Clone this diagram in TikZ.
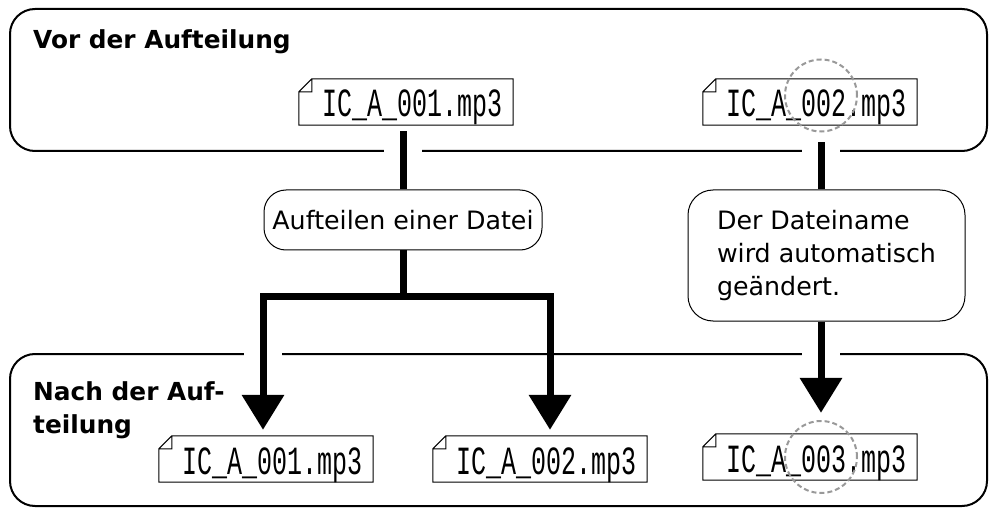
\documentclass[tikz,border=0pt]{standalone}
\usepackage{fontspec}
\setmainfont{DejaVu Sans}
\newfontfamily\filefont[FakeStretch=0.625]{Liberation Mono}
\usetikzlibrary{arrows.meta, calc}

\tikzstyle{panel} = [draw, line width=2pt, rounded corners=25pt, minimum width=977pt, inner sep=0pt]
\tikzstyle{heading} = [font=\bfseries\fontsize{24.8}{33}\selectfont, align=left, anchor=base west, inner sep=0pt]
\tikzstyle{stdText} = [font=\fontsize{25.3}{33}\selectfont, align=left]
\tikzstyle{action} = [stdText, draw, line width=1pt, rounded corners=25pt, inner sep=0pt]
\tikzstyle{file} = [font=\filefont\fontsize{40}{40}\selectfont, minimum width=214pt, text height=38pt, text depth=8pt, inner sep=0pt,
    execute at begin node={\hspace*{14pt}},
    append after command={\pgfextra{
        \draw [line width=1pt] ([yshift=-13pt]\tikzlastnode.north west) -- ([xshift=13pt]\tikzlastnode.north west)
            -- (\tikzlastnode.north east) -- (\tikzlastnode.south east) -- (\tikzlastnode.south west) -- cycle
            ([yshift=-13pt]\tikzlastnode.north west) -- ([shift={(13pt,-13pt)}]\tikzlastnode.north west)
            -- ([xshift=13pt]\tikzlastnode.north west);
    }}]
\tikzstyle{ring} = [circle, draw=gray!80, dash pattern=on 5pt off 3pt, line width=2pt, minimum size=72pt, inner sep=0pt]
\tikzstyle{gap} = [draw=white, line width=5pt]
\tikzstyle{bar} = [line width=7pt]
\tikzstyle{flow} = [bar, -{Triangle[width=41pt, length=35pt]}]
\tikzstyle{fork} = [bar, {Triangle[width=41pt, length=35pt]}-{Triangle[width=41pt, length=35pt]}]

\begin{document}
\begin{tikzpicture}[x=1pt, y=-1pt]
    \useasboundingbox (0,0) rectangle (989,508);

    % the two stages
    \node (before) [panel, minimum height=142pt] at (498.5,80) {};
    \node (after) [panel, minimum height=152pt] at (498.5,430) {};
    \node (beforeTitle) [heading] at (33,49) {Vor der Aufteilung};
    \node (afterTitle) [heading] at (33,433) {Nach der Auf-\\teilung};

    % the files
    \node (f1) [file] at (406,102) {IC\_A\_001.mp3};
    \node (f2) [file] at (810,102) {IC\_A\_002.mp3};
    \node (g1) [file] at (266,459) {IC\_A\_001.mp3};
    \node (g2) [file] at (540,459) {IC\_A\_002.mp3};
    \node (g3) [file] at (810,457) {IC\_A\_003.mp3};

    % what happens to them
    \node (split) [action, minimum width=278pt, minimum height=60pt, rounded corners=22pt] at (403,220) {Aufteilen einer Datei};
    \node (rename) [action, minimum width=277pt, minimum height=131pt] at (826.5,255.5) {Der Dateiname\\wird automatisch\\geändert.};

    % the changed part of the name
    \node (ring1) [ring] at (821,95.5) {};
    \node (ring2) [ring] at (821,457) {};

    \coordinate (colR) at (821,0);
    \coordinate (forkL) at (263,296);
    \coordinate (forkR) at (550,296);

    % gaps in the frames
    \foreach \c/\p in {split/before.south, colR/before.south, forkL/after.north, colR/after.north}{
        \draw [gap] ([xshift=-19pt]\c |- \p) -- ([xshift=19pt]\c |- \p);
    }

    \draw [bar, shorten <=6pt] (split.north |- f1.south) -- (split.north);
    \draw [bar] (split.south) -- (split.south |- forkL);
    \draw [fork, shorten <=6pt, shorten >=6pt] (forkL |- g1.north) -- (forkL) -- (forkR) -- (forkR |- g2.north);
    \draw [bar, shorten <=17pt] (colR |- f2.south) -- (colR |- rename.north);
    \draw [flow, shorten >=21pt] (colR |- rename.south) -- (colR |- g3.north);
\end{tikzpicture}
\end{document}
